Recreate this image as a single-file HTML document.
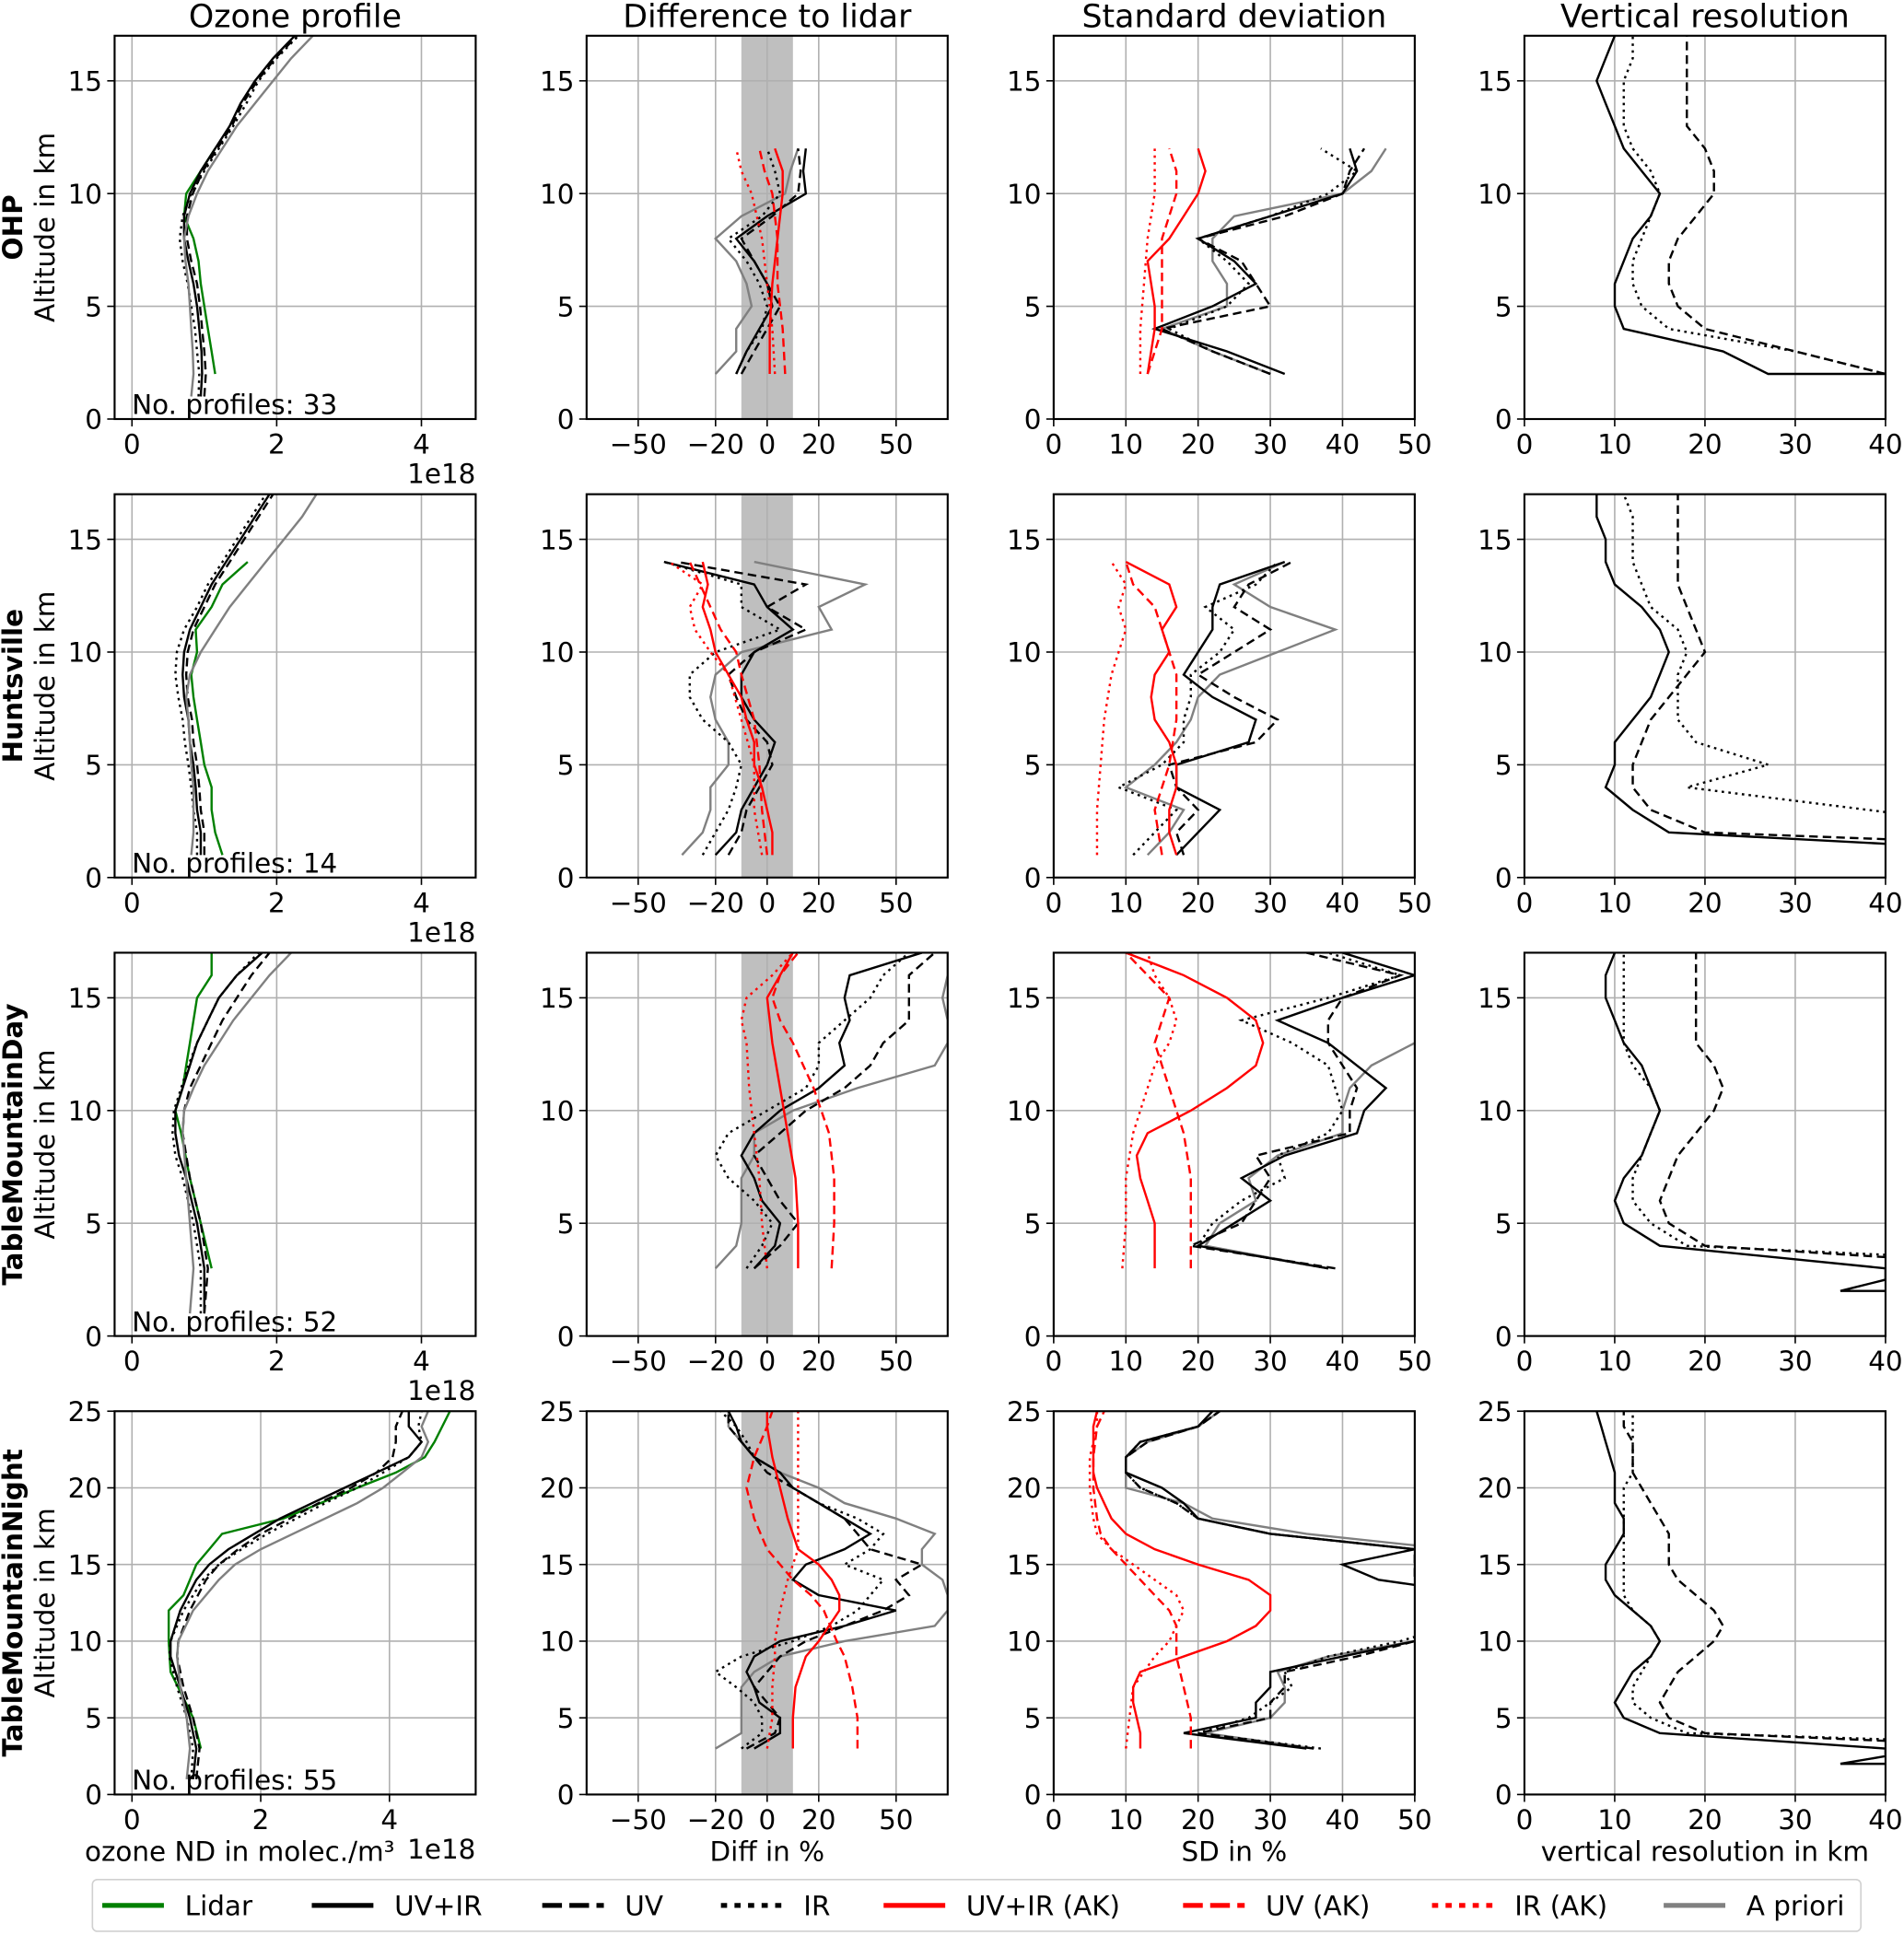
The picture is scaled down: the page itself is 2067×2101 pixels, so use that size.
<!DOCTYPE html>
<html><head><meta charset="utf-8"><style>
html,body{margin:0;padding:0;background:#fff;}
svg{display:block;font-family:"DejaVu Sans","Liberation Sans",sans-serif;}
</style></head><body>
<svg id="fig" width="2067" height="2101" viewBox="0 0 1545 1570" preserveAspectRatio="none" xmlns="http://www.w3.org/2000/svg"></svg>
<script>
// ---------- data: [altitude km, value] ----------
// Row 1 OHP
const ohp_prof_lidar=[[2,1.15],[3,1.1],[4,1.05],[5,1.0],[6,0.95],[7,0.92],[8,0.85],[9,0.72],[10,0.75],[11,0.95],[12,1.15]];
const ohp_prof_uvir=[[1,0.95],[2,0.97],[3,0.96],[4,0.93],[5,0.9],[6,0.85],[7,0.78],[8,0.72],[9,0.72],[10,0.8],[11,0.95],[12,1.15],[13,1.35],[14,1.5],[15,1.7],[16,1.95],[17,2.25]];
const ohp_prof_uv=[[1,1.0],[2,1.02],[3,1.0],[4,0.97],[5,0.94],[6,0.9],[7,0.82],[8,0.76],[9,0.76],[10,0.84],[11,0.98],[12,1.18],[13,1.38],[14,1.53],[15,1.73],[16,1.98],[17,2.28]];
const ohp_prof_ir=[[1,0.92],[2,0.93],[3,0.9],[4,0.87],[5,0.82],[6,0.77],[7,0.7],[8,0.66],[9,0.7],[10,0.82],[11,1.0],[12,1.2],[13,1.4],[14,1.58],[15,1.75],[16,2.0],[17,2.3]];
const ohp_prof_apri=[[1,0.82],[2,0.85],[3,0.84],[4,0.82],[5,0.8],[6,0.78],[7,0.74],[8,0.72],[9,0.78],[10,0.9],[11,1.05],[12,1.25],[13,1.45],[14,1.7],[15,1.95],[16,2.2],[17,2.5]];
const ohp_diff_uvir=[[2,-12],[3,-8],[4,-3],[5,2],[6,0],[7,-5],[8,-12],[9,0],[10,15],[11,14],[12,15]];
const ohp_diff_uv=[[2,-10],[3,-5],[4,0],[5,5],[6,0],[7,-5],[8,-10],[9,2],[10,12],[11,13],[12,12]];
const ohp_diff_ir=[[2,-12],[3,-8],[4,-2],[5,0],[6,-3],[7,-8],[8,-15],[9,-2],[10,5],[11,3],[12,0]];
const ohp_diff_apri=[[2,-20],[3,-12],[4,-12],[5,-6],[6,-8],[7,-12],[8,-20],[9,-10],[10,7],[11,9],[12,12]];
const ohp_diff_uvirak=[[2,1],[4,1],[6,2],[8,4],[10,6],[11,6],[12,3]];
const ohp_diff_uvak=[[2,7],[4,6],[6,4],[8,4],[10,2],[11,-1],[12,-3]];
const ohp_diff_irak=[[2,3],[4,2],[6,0],[8,-2],[10,-6],[11,-10],[12,-12]];
const ohp_sd_uvir=[[2,32],[3,24],[4,14],[5,22],[6,28],[7,25],[8,20],[9,30],[10,40],[11,42],[12,41]];
const ohp_sd_uv=[[2,30],[3,22],[4,15],[5,30],[6,28],[7,26],[8,20],[9,32],[10,40],[11,41],[12,43]];
const ohp_sd_ir=[[2,30],[3,22],[4,16],[5,24],[6,27],[7,24],[8,20],[9,30],[10,38],[11,42],[12,37]];
const ohp_sd_apri=[[2,30],[3,22],[4,15],[5,24],[6,24],[7,22],[8,22],[9,25],[10,40],[11,44],[12,46]];
const ohp_sd_uvirak=[[2,13],[3,13.5],[4,14],[5,14],[6,13.5],[7,13],[8,16],[9,18],[10,20],[11,21],[12,20]];
const ohp_sd_uvak=[[2,13],[4,15],[6,15],[8,15],[10,17],[11,17],[12,16]];
const ohp_sd_irak=[[2,12],[4,12],[6,12.5],[8,13],[10,14],[11,14],[12,14]];
const ohp_vr_uvir=[[2,40],[2,27],[3,22],[4,11],[5,10],[6,10],[7,11],[8,12],[9,14],[10,15],[11,13],[12,11],[13,10],[14,9],[15,8],[16,9],[17,10]];
const ohp_vr_uv=[[2,40],[3,30],[4,20],[5,17],[6,16],[7,16],[8,17],[9,19],[10,21],[11,21],[12,20],[13,18],[14,18],[15,18],[16,18],[17,18]];
const ohp_vr_ir=[[2,40],[3,30],[4,16],[5,13],[6,12],[7,12],[8,13],[9,14],[10,15],[11,14],[12,12],[13,11],[14,11],[15,11],[16,12],[17,12]];
// Row 2 Huntsville
const hsv_prof_lidar=[[1,1.25],[2,1.15],[3,1.1],[4,1.1],[5,1.0],[6,0.95],[7,0.9],[8,0.85],[9,0.82],[10,0.9],[11,0.88],[12,1.1],[13,1.25],[14,1.6]];
const hsv_prof_uvir=[[1,0.95],[2,0.95],[3,0.9],[4,0.88],[5,0.85],[6,0.8],[7,0.78],[8,0.72],[9,0.7],[10,0.72],[11,0.8],[12,0.95],[13,1.1],[14,1.3],[15,1.5],[16,1.7],[17,1.9]];
const hsv_prof_uv=[[1,1.0],[2,1.0],[3,0.95],[4,0.93],[5,0.9],[6,0.85],[7,0.83],[8,0.77],[9,0.75],[10,0.77],[11,0.85],[12,1.0],[13,1.15],[14,1.35],[15,1.55],[16,1.75],[17,1.95]];
const hsv_prof_ir=[[1,0.9],[2,0.9],[3,0.85],[4,0.82],[5,0.78],[6,0.73],[7,0.7],[8,0.64],[9,0.6],[10,0.62],[11,0.72],[12,0.9],[13,1.05],[14,1.25],[15,1.45],[16,1.65],[17,1.85]];
const hsv_prof_apri=[[1,0.82],[2,0.85],[3,0.85],[4,0.85],[5,0.82],[6,0.8],[7,0.78],[8,0.75],[9,0.8],[10,0.95],[11,1.15],[12,1.35],[13,1.6],[14,1.85],[15,2.1],[16,2.35],[17,2.55]];
const hsv_diff_uvir=[[1,-20],[2,-12],[3,-10],[4,-5],[5,0],[6,3],[7,-5],[8,-10],[9,-10],[10,-5],[11,10],[12,0],[13,-5],[14,-40]];
const hsv_diff_uv=[[1,-15],[2,-10],[3,-8],[4,-3],[5,2],[6,0],[7,-8],[8,-12],[9,-15],[10,-5],[11,15],[12,0],[13,15],[14,-35]];
const hsv_diff_ir=[[1,-25],[2,-20],[3,-15],[4,-12],[5,-10],[6,-15],[7,-25],[8,-30],[9,-30],[10,-20],[11,5],[12,-10],[13,-10],[14,-40]];
const hsv_diff_apri=[[1,-33],[2,-25],[3,-22],[4,-22],[5,-15],[6,-15],[7,-20],[8,-22],[9,-20],[10,-10],[11,25],[12,20],[13,38],[14,-5]];
const hsv_diff_uvirak=[[1,2],[2,2],[3,0],[4,-2],[5,-5],[6,-5],[7,-8],[8,-10],[9,-15],[10,-20],[11,-22],[12,-25],[13,-23],[14,-25]];
const hsv_diff_uvak=[[1,0],[3,-2],[5,-3],[7,-5],[9,-10],[10,-12],[11,-18],[12,-22],[13,-26],[14,-30]];
const hsv_diff_irak=[[1,-2],[3,-5],[5,-5],[7,-10],[9,-15],[10,-22],[11,-28],[12,-30],[13,-25],[14,-38]];
const hsv_sd_uvir=[[1,17],[2,20],[3,23],[4,17],[5,17],[6,27],[7,28],[8,22],[9,18],[10,20],[11,22],[12,22],[13,23],[14,32]];
const hsv_sd_uv=[[1,18],[2,17],[3,20],[4,17],[5,16],[6,28],[7,31],[8,25],[9,20],[10,25],[11,30],[12,25],[13,27],[14,33]];
const hsv_sd_ir=[[1,11],[2,14],[3,17],[4,9],[5,15],[6,18],[7,18],[8,19],[9,19],[10,23],[11,25],[12,21],[13,28],[14,31]];
const hsv_sd_apri=[[1,13],[2,16],[3,18],[4,10],[5,14],[6,17],[7,19],[8,20],[9,23],[10,31],[11,39],[12,30],[13,25],[14,32]];
const hsv_sd_uvirak=[[1,17],[2,16],[3,16],[4,17],[5,17],[6,16],[7,14],[8,13.5],[9,14],[10,16],[11,15],[12,17],[13,16],[14,10]];
const hsv_sd_uvak=[[1,15],[3,14],[5,16],[7,17],[9,17],[10,16],[11,15],[12,14],[13,11],[14,10]];
const hsv_sd_irak=[[1,6],[3,6],[5,6.5],[7,7],[9,8],[10,9],[11,10],[12,9],[13,10],[14,8]];
const hsv_vr_uvir=[[1.5,40],[2,16],[3,12],[4,9],[5,10],[6,10],[7,12],[8,14],[9,15],[10,16],[11,15],[12,13],[13,10],[14,9],[15,9],[16,8],[17,8]];
const hsv_vr_uv=[[1.7,40],[2,20],[3,14],[4,12],[5,12],[6,13],[7,14],[8,16],[9,18],[10,20],[11,19],[12,18],[13,17],[14,17],[15,17],[16,17],[17,17]];
const hsv_vr_ir=[[2.9,40],[4,18],[5,27],[6,19],[7,17],[8,17],[9,17],[10,18],[11,17],[12,14],[13,13],[14,12],[15,12],[16,12],[17,11]];
// Row 3 TableMountainDay
const tmd_prof_lidar=[[3,1.1],[5,0.95],[7,0.8],[9,0.68],[10,0.6],[11,0.7],[12,0.75],[13,0.8],[14,0.85],[15,0.9],[16,1.1],[17,1.1]];
const tmd_prof_uvir=[[1,1.0],[3,1.0],[5,0.9],[7,0.75],[8,0.65],[9,0.6],[10,0.6],[11,0.7],[12,0.8],[13,0.9],[14,1.05],[15,1.2],[16,1.45],[17,1.8]];
const tmd_prof_uv=[[1,1.0],[3,1.05],[5,0.95],[7,0.8],[9,0.7],[10,0.72],[11,0.8],[12,0.95],[13,1.1],[14,1.25],[15,1.45],[16,1.65],[17,1.9]];
const tmd_prof_ir=[[1,0.95],[3,0.95],[5,0.85],[7,0.7],[8,0.6],[9,0.56],[10,0.58],[11,0.68],[12,0.78],[13,0.9],[14,1.05],[15,1.2],[16,1.45],[17,1.75]];
const tmd_prof_apri=[[1,0.8],[3,0.85],[5,0.8],[7,0.75],[9,0.7],[10,0.72],[11,0.85],[12,1.0],[13,1.2],[14,1.4],[15,1.65],[16,1.9],[17,2.2]];
const tmd_diff_uvir=[[3,-5],[4,3],[5,5],[6,-2],[7,-5],[8,-10],[9,-5],[10,5],[11,20],[12,30],[13,28],[14,32],[15,30],[16,32],[17,60]];
const tmd_diff_uv=[[3,-5],[4,5],[5,12],[6,5],[7,0],[8,-5],[9,5],[10,15],[11,30],[12,40],[13,45],[14,55],[15,55],[16,55],[17,65]];
const tmd_diff_ir=[[3,-8],[4,-2],[5,2],[6,-5],[7,-15],[8,-20],[9,-15],[10,0],[11,15],[12,20],[13,20],[14,30],[15,40],[16,45],[17,55]];
const tmd_diff_apri=[[3,-20],[4,-12],[5,-10],[6,-10],[7,-10],[8,-5],[9,-5],[10,10],[11,35],[12,65],[13,70],[14,70],[15,68],[16,70],[17,70]];
const tmd_diff_uvirak=[[3,12],[5,12],[7,11],[9,8],[11,5],[13,2],[14,1],[15,0],[16,5],[17,10]];
const tmd_diff_uvak=[[3,25],[5,26],[7,26],[9,24],[11,18],[13,10],[14,5],[15,2],[16,5],[17,12]];
const tmd_diff_irak=[[3,0],[5,-2],[7,-3],[9,-5],[11,-7],[13,-8],[14,-10],[15,-8],[16,2],[17,10]];
const tmd_sd_uvir=[[3,38],[4,20],[5,25],[6,30],[7,26],[8,32],[9,42],[10,43],[11,46],[12,42],[13,38],[14,31],[15,40],[16,50],[17,40]];
const tmd_sd_uv=[[3,39],[4,19],[5,26],[6,28],[7,30],[8,28],[9,41],[10,41],[11,42],[12,40],[13,38],[14,38],[15,40],[16,48],[17,35]];
const tmd_sd_ir=[[3,38],[4,20],[5,22],[6,26],[7,32],[8,31],[9,38],[10,40],[11,39],[12,38],[13,33],[14,26],[15,38],[16,48],[17,38]];
const tmd_sd_apri=[[3,38],[4,21],[5,23],[6,28],[7,27],[8,31],[9,40],[10,40],[11,41],[12,44],[13,50],[14,52],[15,52],[16,52],[17,52]];
const tmd_sd_uvirak=[[3,14],[4,14],[5,14],[6,13],[7,12],[8,11.5],[9,13],[10,19],[11,24],[12,28],[13,29],[14,28],[15,24],[16,18],[17,10]];
const tmd_sd_uvak=[[3,19],[5,19],[7,19],[9,18],[10,17],[11,16],[12,15],[13,14],[14,15],[15,16],[16,13],[17,10]];
const tmd_sd_irak=[[3,9.5],[5,10],[7,10],[9,11],[10,12],[11,13],[12,14],[13,16],[14,17],[15,16],[16,14],[17,13]];
const tmd_vr_uvir=[[2,40],[2,35],[2.5,40],[3,40],[4,15],[5,11],[6,10],[7,11],[8,13],[9,14],[10,15],[11,14],[12,13],[13,11],[14,10],[15,9],[16,9],[17,10]];
const tmd_vr_uv=[[3.5,40],[4,20],[5,16],[6,15],[7,16],[8,17],[9,19],[10,21],[11,22],[12,21],[13,19],[14,19],[15,19],[16,19],[17,19]];
const tmd_vr_ir=[[3.6,40],[4,18],[5,14],[6,12],[7,12],[8,13],[9,14],[10,15],[11,14],[12,12],[13,11],[14,11],[15,11],[16,11],[17,11]];
// Row 4 TableMountainNight
const tmn_prof_lidar=[[3,1.07],[5,0.95],[8,0.6],[10,0.57],[12,0.57],[13,0.8],[15,1.0],[16,1.2],[17,1.4],[18,2.35],[20,3.5],[21,4.1],[22,4.55],[23,4.7],[25,4.94]];
const tmn_prof_uvir=[[1,0.95],[3,1.0],[5,0.9],[7,0.75],[9,0.6],[10,0.6],[12,0.75],[14,1.0],[15,1.2],[16,1.5],[17,1.9],[18,2.3],[19,2.8],[20,3.3],[21,3.8],[22,4.3],[23,4.5],[24,4.3],[25,4.3]];
const tmn_prof_uv=[[1,1.0],[3,1.05],[5,0.95],[7,0.8],[9,0.7],[10,0.72],[12,0.9],[14,1.15],[15,1.35],[16,1.65],[17,2.0],[18,2.45],[19,2.9],[20,3.4],[21,3.8],[22,4.05],[23,4.1],[24,4.1],[25,4.2]];
const tmn_prof_ir=[[1,0.92],[3,0.95],[5,0.85],[7,0.7],[9,0.58],[10,0.6],[12,0.8],[14,1.1],[15,1.35],[16,1.7],[17,2.1],[18,2.55],[19,3.0],[20,3.5],[21,3.9],[22,4.3],[23,4.5],[24,4.45],[25,4.5]];
const tmn_prof_apri=[[1,0.85],[3,0.9],[5,0.85],[7,0.75],[9,0.7],[10,0.72],[12,0.95],[14,1.35],[15,1.6],[16,2.0],[17,2.5],[18,3.0],[19,3.5],[20,3.9],[21,4.2],[22,4.5],[23,4.6],[24,4.5],[25,4.6]];
const tmn_diff_uvir=[[3,-5],[4,5],[5,5],[6,-3],[7,-5],[8,-8],[9,-5],[10,5],[11,30],[12,50],[13,20],[14,10],[15,15],[16,30],[17,40],[18,30],[19,20],[20,10],[21,5],[22,-5],[23,-10],[24,-12],[25,-15]];
const tmn_diff_uv=[[3,-8],[4,3],[5,5],[6,0],[7,-5],[8,0],[9,5],[10,15],[11,30],[12,45],[13,55],[14,50],[15,60],[16,40],[17,35],[18,30],[19,20],[20,10],[21,0],[22,-5],[23,-10],[24,-15],[25,-15]];
const tmn_diff_ir=[[3,-10],[4,-2],[5,-2],[6,-5],[7,-12],[8,-20],[9,-10],[10,10],[11,25],[12,35],[13,40],[14,45],[15,30],[16,40],[17,45],[18,35],[19,20],[20,10],[21,5],[22,-5],[23,-8],[24,-12],[25,-18]];
const tmn_diff_apri=[[3,-20],[4,-10],[5,-10],[6,-10],[7,-10],[8,-5],[9,5],[10,30],[11,65],[12,70],[13,70],[14,68],[15,60],[16,60],[17,65],[18,50],[19,30],[20,20],[21,5],[22,-5],[23,-10],[24,-15],[25,-15]];
const tmn_diff_uvirak=[[3,10],[5,10],[7,11],[9,15],[10,20],[12,28],[13,28],[14,25],[15,20],[16,12],[17,10],[18,8],[20,5],[22,2],[24,0],[25,0]];
const tmn_diff_uvak=[[3,35],[5,35],[7,33],[9,30],[10,27],[12,22],[13,17],[14,10],[15,5],[16,0],[18,-5],[20,-8],[22,-5],[24,0],[25,2]];
const tmn_diff_irak=[[3,0],[5,2],[7,2],[9,3],[10,3],[12,5],[14,8],[15,10],[16,12],[18,12],[20,12],[22,12],[24,12],[25,12]];
const tmn_sd_uvir=[[3,35],[4,18],[5,28],[6,28],[7,30],[8,30],[9,40],[10,50],[11,60],[13,60],[14,45],[15,40],[16,50],[17,30],[18,20],[19,18],[20,15],[21,10],[22,10],[23,12],[24,20],[25,22]];
const tmn_sd_uv=[[3,36],[4,20],[5,30],[6,30],[7,32],[8,32],[9,42],[10,50],[11,55],[13,55],[14,50],[15,50],[16,50],[17,30],[18,20],[19,17],[20,12],[21,10],[22,10],[23,13],[24,20],[25,23]];
const tmn_sd_ir=[[3,37],[4,20],[5,27],[6,30],[7,33],[8,32],[9,38],[10,48],[11,55],[14,55],[15,55],[16,50],[17,30],[18,20],[19,17],[20,12],[21,10],[22,10],[23,12],[24,20],[25,23]];
const tmn_sd_apri=[[3,36],[4,21],[5,30],[6,32],[7,32],[8,31],[9,38],[10,50],[11,60],[14,55],[15,55],[16,55],[17,35],[18,22],[19,18],[20,10],[21,10],[22,10],[23,13],[24,20],[25,23]];
const tmn_sd_uvirak=[[3,12],[4,12],[5,11.5],[6,11],[7,11],[8,12],[9,18],[10,24],[11,28],[12,30],[13,30],[14,27],[15,20],[16,14],[17,10],[18,8],[19,7],[20,6],[21,5.5],[22,5.5],[23,5.5],[24,5.5],[25,6]];
const tmn_sd_uvak=[[3,19],[5,19],[7,18],[9,17],[10,17],[11,17],[12,16],[13,14],[14,12],[15,10],[16,8],[17,6.5],[18,6],[20,5.5],[22,5.5],[24,6],[25,7]];
const tmn_sd_irak=[[3,10],[5,10.5],[7,11],[9,14],[10,16],[11,17],[12,18],[13,17],[14,14],[15,11],[16,8],[17,6],[18,5.5],[20,5],[22,5],[24,6],[25,6]];
const tmn_vr_uvir=[[2,40],[2,35],[2.5,40],[3,40],[4,15],[5,11],[6,10],[7,11],[8,12],[9,14],[10,15],[11,14],[12,12],[13,10],[14,9],[15,9],[16,10],[17,11],[18,11],[19,10],[20,10],[21,10],[22,9.5],[23,9],[24,8.5],[25,8]];
const tmn_vr_uv=[[3.5,40],[4,20],[5,16],[6,15],[7,16],[8,17],[9,19],[10,21],[11,22],[12,21],[13,19],[14,17],[15,16],[16,16],[17,16],[18,15],[19,14],[20,13],[21,12],[22,12],[23,12],[24,11],[25,11]];
const tmn_vr_ir=[[3.6,40],[4,18],[5,14],[6,12],[7,12],[8,13],[9,14],[10,15],[11,14],[12,12],[13,11],[14,11],[15,11],[16,11],[17,11],[18,11],[19,11],[20,11],[21,12],[22,12],[23,12],[24,12],[25,12]];

const stationNames=["OHP","Huntsville","TableMountainDay","TableMountainNight"];
const profileCounts=[33,14,52,55];
const colTitles=["Ozone profile","Difference to lidar","Standard deviation","Vertical resolution"];
const colXLabels=["ozone ND in molec./m\u00b3","Diff in %","SD in %","vertical resolution in km"];
const xTicksProf=[0,2,4];
const xTicksDiff=[-50,-20,0,20,50];
const xTicksSD=[0,10,20,30,40,50];
const xTicksVR=[0,10,20,30,40];
const yTicksShort=[0,5,10,15];
const yTicksLong=[0,5,10,15,20,25];
const legendLabels=["Lidar","UV+IR","UV","IR","UV+IR (AK)","UV (AK)","IR (AK)","A priori"];

// ---------- layout ----------
const NS="http://www.w3.org/2000/svg";
const svg=document.getElementById('fig');
const colL=[93,476,855,1237], W=293, rowT=[29,401,773,1145], H=311;
const STY={lidar:["#008000",""],uvir:["#000",""],uv:["#000","7,4"],ir:["#000","2,3.5"],uvirak:["#f00",""],uvak:["#f00","7,4"],irak:["#f00","2,3.5"],apri:["#808080",""]};
function mk(tag,attrs,parent){const e=document.createElementNS(NS,tag);for(const k in attrs)e.setAttribute(k,attrs[k]);(parent||svg).appendChild(e);return e;}
function txt(s,x,y,size,anchor,parent,extra){const t=mk('text',Object.assign({x:x,y:y,'font-size':size,'text-anchor':anchor||'middle',fill:'#000'},extra||{}),parent);t.textContent=s;return t;}

const rowData=[
 {p:{lidar:ohp_prof_lidar,uvir:ohp_prof_uvir,uv:ohp_prof_uv,ir:ohp_prof_ir,apri:ohp_prof_apri},d:{apri:ohp_diff_apri,uvir:ohp_diff_uvir,uv:ohp_diff_uv,ir:ohp_diff_ir,uvirak:ohp_diff_uvirak,uvak:ohp_diff_uvak,irak:ohp_diff_irak},s:{apri:ohp_sd_apri,uvir:ohp_sd_uvir,uv:ohp_sd_uv,ir:ohp_sd_ir,uvirak:ohp_sd_uvirak,uvak:ohp_sd_uvak,irak:ohp_sd_irak},v:{uvir:ohp_vr_uvir,uv:ohp_vr_uv,ir:ohp_vr_ir}},
 {p:{lidar:hsv_prof_lidar,uvir:hsv_prof_uvir,uv:hsv_prof_uv,ir:hsv_prof_ir,apri:hsv_prof_apri},d:{apri:hsv_diff_apri,uvir:hsv_diff_uvir,uv:hsv_diff_uv,ir:hsv_diff_ir,uvirak:hsv_diff_uvirak,uvak:hsv_diff_uvak,irak:hsv_diff_irak},s:{apri:hsv_sd_apri,uvir:hsv_sd_uvir,uv:hsv_sd_uv,ir:hsv_sd_ir,uvirak:hsv_sd_uvirak,uvak:hsv_sd_uvak,irak:hsv_sd_irak},v:{uvir:hsv_vr_uvir,uv:hsv_vr_uv,ir:hsv_vr_ir}},
 {p:{lidar:tmd_prof_lidar,uvir:tmd_prof_uvir,uv:tmd_prof_uv,ir:tmd_prof_ir,apri:tmd_prof_apri},d:{apri:tmd_diff_apri,uvir:tmd_diff_uvir,uv:tmd_diff_uv,ir:tmd_diff_ir,uvirak:tmd_diff_uvirak,uvak:tmd_diff_uvak,irak:tmd_diff_irak},s:{apri:tmd_sd_apri,uvir:tmd_sd_uvir,uv:tmd_sd_uv,ir:tmd_sd_ir,uvirak:tmd_sd_uvirak,uvak:tmd_sd_uvak,irak:tmd_sd_irak},v:{uvir:tmd_vr_uvir,uv:tmd_vr_uv,ir:tmd_vr_ir}},
 {p:{lidar:tmn_prof_lidar,uvir:tmn_prof_uvir,uv:tmn_prof_uv,ir:tmn_prof_ir,apri:tmn_prof_apri},d:{apri:tmn_diff_apri,uvir:tmn_diff_uvir,uv:tmn_diff_uv,ir:tmn_diff_ir,uvirak:tmn_diff_uvirak,uvak:tmn_diff_uvak,irak:tmn_diff_irak},s:{apri:tmn_sd_apri,uvir:tmn_sd_uvir,uv:tmn_sd_uv,ir:tmn_sd_ir,uvirak:tmn_sd_uvirak,uvak:tmn_sd_uvak,irak:tmn_sd_irak},v:{uvir:tmn_vr_uvir,uv:tmn_vr_uv,ir:tmn_vr_ir}}
];

colTitles.forEach((t,c)=>{const e=txt(t,colL[c]+W/2,22,26);
 
 });

for(let r=0;r<4;r++){
 const ymax=r===3?25:17, yt=r===3?yTicksLong:yTicksShort;
 const y0=rowT[r], yB=y0+H;
 const yS=v=>yB-v/ymax*H;
 const row=mk('g',{});
 
 
 // row labels
 const rl=txt(stationNames[r],0,0,22,'middle',row,{'font-weight':'bold',transform:`translate(18,${y0+H/2}) rotate(-90)`});
 
 
 const yl=txt('Altitude in km',0,0,22,'middle',row,{transform:`translate(44,${y0+H/2}) rotate(-90)`});
 
 
 const panels=[
  {xmin:r===3?-0.27:-0.24,xmax:r===3?5.34:4.75,ticks:xTicksProf,data:rowData[r].p,key:'profile'},
  {xmin:-70,xmax:70,ticks:xTicksDiff,data:rowData[r].d,key:'difference'},
  {xmin:0,xmax:50,ticks:xTicksSD,data:rowData[r].s,key:'std-dev'},
  {xmin:0,xmax:40,ticks:xTicksVR,data:rowData[r].v,key:'vert-res'}];
 panels.forEach((p,c)=>{
  const x0=colL[c];
  const xS=v=>x0+(v-p.xmin)/(p.xmax-p.xmin)*W;
  const g=mk('g',{},row);
  
  
  const cid='clip'+r+'_'+c;
  const cp=mk('clipPath',{id:cid},g); mk('rect',{x:x0,y:y0,width:W,height:H},cp);
  if(c===1){const band=mk('rect',{x:xS(-10),y:y0,width:xS(10)-xS(-10),height:H,fill:'#bfbfbf'},g);
   
   }
  // grid
  p.ticks.forEach(t=>{const l=mk('line',{x1:xS(t),x2:xS(t),y1:y0,y2:yB,stroke:'#b0b0b0','stroke-width':1.2},g);
   
   
   mk('line',{x1:xS(t),x2:xS(t),y1:yB,y2:yB+6,stroke:'#000','stroke-width':1.2},g);
   const tl=txt(t<0?'\u2212'+(-t):String(t),xS(t),yB+28,22,'middle',g);
   
   });
  yt.forEach(t=>{const l=mk('line',{x1:x0,x2:x0+W,y1:yS(t),y2:yS(t),stroke:'#b0b0b0','stroke-width':1.2},g);
   
   
   mk('line',{x1:x0-6,x2:x0,y1:yS(t),y2:yS(t),stroke:'#000','stroke-width':1.2},g);
   const tl=txt(String(t),x0-10,yS(t)+8,22,'end',g);
   
   });
  // series
  const sg=mk('g',{'clip-path':`url(#${cid})`},g);
  for(const k in p.data){
   const pts=p.data[k].map(d=>xS(d[1]).toFixed(1)+','+yS(d[0]).toFixed(1)).join(' ');
   const st=STY[k];
   const pl=mk('polyline',{points:pts,fill:'none',stroke:st[0],'stroke-width':1.8,'stroke-dasharray':st[1]||'none','stroke-linejoin':'miter'},sg);
   
   
  }
  const fr=mk('rect',{x:x0,y:y0,width:W,height:H,fill:'none',stroke:'#000','stroke-width':1.6},g);
  
  
  if(c===0){
   const np=txt('No. profiles: '+profileCounts[r],107,yB-4,22,'start',g);
   
   
   const ex=txt('1e18',x0+W,yB+52,22,'end',g);
   
   
  }
  if(r===3){
   const xl=txt(colXLabels[c],c===0?x0+W/2-45:x0+W/2,1510,22,'middle',g);
   
   
  }
 });
}

// legend
const lg=mk('g',{});


mk('rect',{x:75,y:1525,width:1435,height:42,rx:4,fill:'#fff',stroke:'#d0d0d0','stroke-width':1.2},lg);
const legKeys=['lidar','uvir','uv','ir','uvirak','uvak','irak','apri'];
const legX=[83,253,440,585,717,960,1162,1350];
legKeys.forEach((k,i)=>{
 const st=STY[k];
 const e=mk('g',{},lg);
 
 
 mk('line',{x1:legX[i],x2:legX[i]+50,y1:1546,y2:1546,stroke:st[0],'stroke-width':4,'stroke-dasharray':st[1]?(st[1]==='7,4'?'16,6':'5,6'):'none'},e);
 txt(legendLabels[i],legX[i]+67,1554,22,'start',e);
});
</script>
</body></html>
